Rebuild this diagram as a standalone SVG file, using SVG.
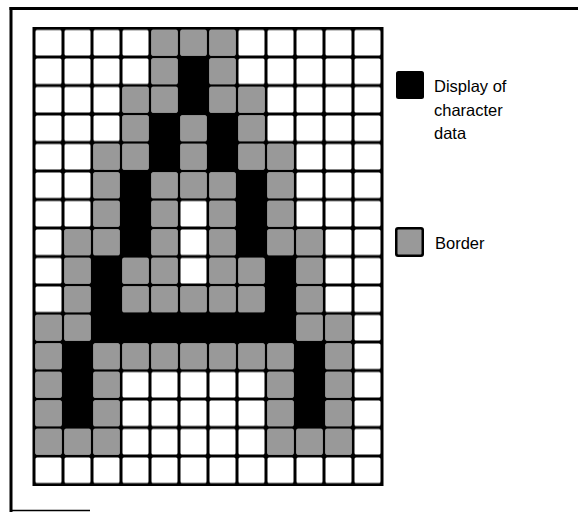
<svg xmlns="http://www.w3.org/2000/svg" width="578" height="512" viewBox="0 0 578 512">
<style>
.frame{stroke:#000;fill:none}
.k{fill:#000}
.g{fill:#999}
.gc{fill:#999;width:26px;height:25.5px}
.lbl{font-family:"Liberation Sans",Arial,sans-serif;font-size:16.5px;fill:#000}
</style>
<defs>
<pattern id="cells" patternUnits="userSpaceOnUse" x="34" y="28.5" width="29" height="28.5">
<rect width="29" height="28.5" fill="#000"/>
<rect x="1.5" y="1.5" width="26" height="25.5" rx="1.5" fill="#fff"/>
</pattern>
</defs>
<rect width="578" height="512" fill="#fff"/>
<g id="frame">
<line class="frame" x1="9.5" y1="8.5" x2="578" y2="8.5" stroke-width="3"/>
<line class="frame" x1="11" y1="7" x2="11" y2="512" stroke-width="3"/>
<line class="frame" x1="11" y1="510.5" x2="90" y2="510.5" stroke-width="1.5"/>
</g>
<g id="grid">
<rect x="32.5" y="27" width="351" height="459" fill="#000"/>
<rect x="34" y="28.5" width="348" height="456" fill="url(#cells)"/>
<g id="black-cells" class="k">
<rect x="179" y="57" width="29" height="57"/>
<rect x="150" y="114" width="29" height="57"/>
<rect x="208" y="114" width="29" height="57"/>
<rect x="121" y="171" width="29" height="85.5"/>
<rect x="237" y="171" width="29" height="85.5"/>
<rect x="92" y="256.5" width="29" height="85.5"/>
<rect x="266" y="256.5" width="29" height="85.5"/>
<rect x="92" y="313.5" width="203" height="28.5"/>
<rect x="63" y="342" width="29" height="85.5"/>
<rect x="295" y="342" width="29" height="85.5"/>
</g>
<g id="border-cells" class="g">
<rect x="151.5" y="30" width="26" height="25.5" rx="1"/><rect x="180.5" y="30" width="26" height="25.5" rx="1"/><rect x="209.5" y="30" width="26" height="25.5" rx="1"/>
<rect x="151.5" y="58.5" width="26" height="25.5" rx="1"/><rect x="209.5" y="58.5" width="26" height="25.5" rx="1"/>
<rect x="122.5" y="87" width="26" height="25.5" rx="1"/><rect x="151.5" y="87" width="26" height="25.5" rx="1"/><rect x="209.5" y="87" width="26" height="25.5" rx="1"/><rect x="238.5" y="87" width="26" height="25.5" rx="1"/>
<rect x="122.5" y="115.5" width="26" height="25.5" rx="1"/><rect x="180.5" y="115.5" width="26" height="25.5" rx="1"/><rect x="238.5" y="115.5" width="26" height="25.5" rx="1"/>
<rect x="93.5" y="144" width="26" height="25.5" rx="1"/><rect x="122.5" y="144" width="26" height="25.5" rx="1"/><rect x="180.5" y="144" width="26" height="25.5" rx="1"/><rect x="238.5" y="144" width="26" height="25.5" rx="1"/><rect x="267.5" y="144" width="26" height="25.5" rx="1"/>
<rect x="93.5" y="172.5" width="26" height="25.5" rx="1"/><rect x="151.5" y="172.5" width="26" height="25.5" rx="1"/><rect x="180.5" y="172.5" width="26" height="25.5" rx="1"/><rect x="209.5" y="172.5" width="26" height="25.5" rx="1"/><rect x="267.5" y="172.5" width="26" height="25.5" rx="1"/>
<rect x="93.5" y="201" width="26" height="25.5" rx="1"/><rect x="151.5" y="201" width="26" height="25.5" rx="1"/><rect x="209.5" y="201" width="26" height="25.5" rx="1"/><rect x="267.5" y="201" width="26" height="25.5" rx="1"/>
<rect x="64.5" y="229.5" width="26" height="25.5" rx="1"/><rect x="93.5" y="229.5" width="26" height="25.5" rx="1"/><rect x="151.5" y="229.5" width="26" height="25.5" rx="1"/><rect x="209.5" y="229.5" width="26" height="25.5" rx="1"/><rect x="267.5" y="229.5" width="26" height="25.5" rx="1"/><rect x="296.5" y="229.5" width="26" height="25.5" rx="1"/>
<rect x="64.5" y="258" width="26" height="25.5" rx="1"/><rect x="122.5" y="258" width="26" height="25.5" rx="1"/><rect x="151.5" y="258" width="26" height="25.5" rx="1"/><rect x="209.5" y="258" width="26" height="25.5" rx="1"/><rect x="238.5" y="258" width="26" height="25.5" rx="1"/><rect x="296.5" y="258" width="26" height="25.5" rx="1"/>
<rect x="64.5" y="286.5" width="26" height="25.5" rx="1"/><rect x="122.5" y="286.5" width="26" height="25.5" rx="1"/><rect x="151.5" y="286.5" width="26" height="25.5" rx="1"/><rect x="180.5" y="286.5" width="26" height="25.5" rx="1"/><rect x="209.5" y="286.5" width="26" height="25.5" rx="1"/><rect x="238.5" y="286.5" width="26" height="25.5" rx="1"/><rect x="296.5" y="286.5" width="26" height="25.5" rx="1"/>
<rect x="35.5" y="315" width="26" height="25.5" rx="1"/><rect x="64.5" y="315" width="26" height="25.5" rx="1"/><rect x="296.5" y="315" width="26" height="25.5" rx="1"/><rect x="325.5" y="315" width="26" height="25.5" rx="1"/>
<rect x="35.5" y="343.5" width="26" height="25.5" rx="1"/><rect x="93.5" y="343.5" width="26" height="25.5" rx="1"/><rect x="122.5" y="343.5" width="26" height="25.5" rx="1"/><rect x="151.5" y="343.5" width="26" height="25.5" rx="1"/><rect x="180.5" y="343.5" width="26" height="25.5" rx="1"/><rect x="209.5" y="343.5" width="26" height="25.5" rx="1"/><rect x="238.5" y="343.5" width="26" height="25.5" rx="1"/><rect x="267.5" y="343.5" width="26" height="25.5" rx="1"/><rect x="325.5" y="343.5" width="26" height="25.5" rx="1"/>
<rect x="35.5" y="372" width="26" height="25.5" rx="1"/><rect x="93.5" y="372" width="26" height="25.5" rx="1"/><rect x="267.5" y="372" width="26" height="25.5" rx="1"/><rect x="325.5" y="372" width="26" height="25.5" rx="1"/>
<rect x="35.5" y="400.5" width="26" height="25.5" rx="1"/><rect x="93.5" y="400.5" width="26" height="25.5" rx="1"/><rect x="267.5" y="400.5" width="26" height="25.5" rx="1"/><rect x="325.5" y="400.5" width="26" height="25.5" rx="1"/>
<rect x="35.5" y="429" width="26" height="25.5" rx="1"/><rect x="64.5" y="429" width="26" height="25.5" rx="1"/><rect x="93.5" y="429" width="26" height="25.5" rx="1"/><rect x="267.5" y="429" width="26" height="25.5" rx="1"/><rect x="296.5" y="429" width="26" height="25.5" rx="1"/><rect x="325.5" y="429" width="26" height="25.5" rx="1"/>
</g>
</g>
<g id="legend-character">
<rect x="396" y="71" width="28" height="28" rx="2.5" class="k"/>
<text class="lbl" x="434" y="92">Display of</text>
<text class="lbl" x="434" y="115.5">character</text>
<text class="lbl" x="434" y="139">data</text>
</g>
<g id="legend-border">
<rect x="395" y="227" width="29" height="30" rx="3" class="k"/>
<rect x="397.5" y="229.5" width="24" height="25" rx="1" class="g"/>
<text class="lbl" x="435" y="249">Border</text>
</g>
</svg>
